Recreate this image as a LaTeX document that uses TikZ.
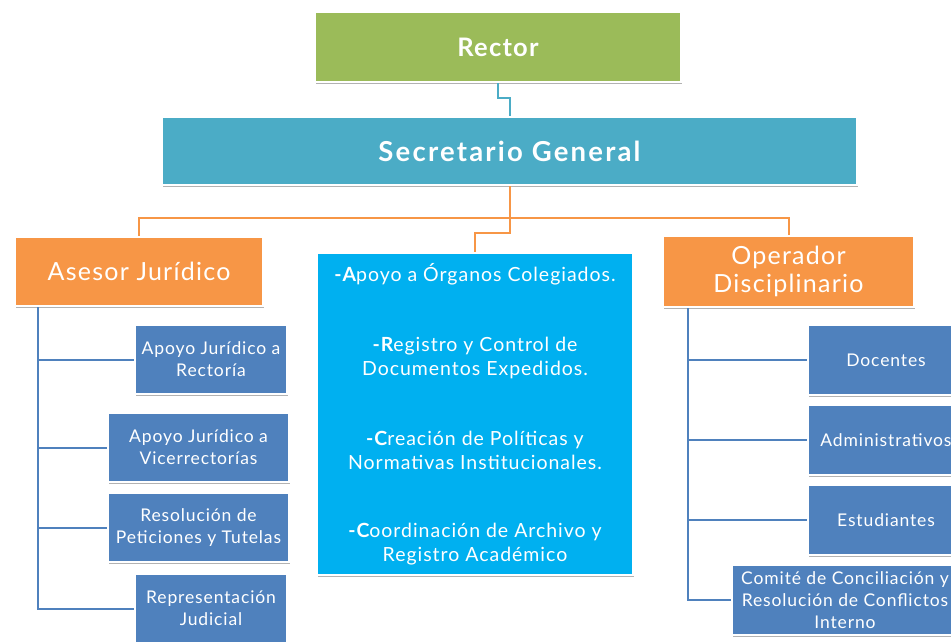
\documentclass[tikz,border=0pt]{standalone}
\usepackage{fontspec}
\setmainfont{Lato}[LetterSpace=5]
\usetikzlibrary{shadows,calc}
\definecolor{cgreen}{HTML}{9BBB59}
\definecolor{cteal}{HTML}{4BACC6}
\definecolor{corange}{HTML}{F79646}
\definecolor{cblue}{HTML}{4F81BD}
\definecolor{csky}{HTML}{00B0F0}
\newcommand\firstl[1]{{\bfseries #1}}
\begin{document}
\begin{tikzpicture}[x=1pt,y=-1pt,
  box/.style={rectangle, draw=white, line width=2.2pt, text=white, align=center, inner sep=2pt,
    drop shadow={shadow xshift=1.2pt, shadow yshift=-1.8pt, opacity=0.3, fill=black}},
  subbox/.style={box, fill=cblue, minimum height=69pt, font=\fontsize{17.5}{22}\selectfont},
  tealline/.style={draw=cteal, line width=2pt},
  orline/.style={draw=corange, line width=2pt},
  blline/.style={draw=cblue, line width=2pt}]
\useasboundingbox (0,0) rectangle (951,643);
\clip (0,0) rectangle (951,643);
\fill[white] (0,0) rectangle (951,643);
% top
\node[box, fill=cgreen, minimum width=366pt, minimum height=70pt, font=\fontsize{25.5}{30}\selectfont\bfseries] (rector) at (498,47) {Rector};
\node[box, fill=cteal, minimum width=695pt, minimum height=68pt, font=\fontsize{27.5}{30}\selectfont\bfseries\addfontfeatures{LetterSpace=8}] (sec) at (509.5,151) {Secretario General};
% second level
\node[box, fill=corange, minimum width=248pt, minimum height=69pt, font=\fontsize{25}{30}\selectfont] (ase) at (139,271.5) {Asesor Jurídico};
\node[box, fill=corange, minimum width=251pt, minimum height=71pt, font=\fontsize{25}{28}\selectfont] (ope) at (788.5,271.5) {Operador\\Disciplinario};
\node[box, fill=csky, minimum width=316pt, minimum height=322pt, font=\fontsize{19.5}{24}\selectfont] (mid) at (475,414)
 {\firstl{-A}poyo a Órganos Colegiados.\\[46pt]
  \firstl{-R}egistro y Control de\\ Documentos Expedidos.\\[46pt]
  \firstl{-C}reación de Políticas y\\ Normativas Institucionales.\\[44pt]
  \firstl{-C}oordinación de Archivo y\\ Registro Académico};
% left children
\node[subbox, minimum width=152pt] (a1) at (211,359.5) {Apoyo Jurídico a\\Rectoría};
\node[subbox, minimum width=181pt] (a2) at (198.5,447.5) {Apoyo Jurídico a\\Vicerrectorías};
\node[subbox, minimum width=181pt] (a3) at (198.5,527.5) {Resolución de\\Peticiones y Tutelas};
\node[subbox, minimum width=152pt] (a4) at (211,608.5) {Representación\\Judicial};
% right children
\node[subbox, minimum width=156pt, minimum height=70pt] (o1) at (886,360) {Docentes};
\node[subbox, minimum width=156pt, minimum height=70pt] (o2) at (886,440) {Administrativos};
\node[subbox, minimum width=156pt, minimum height=70pt] (o3) at (886,520) {Estudiantes};
\node[subbox, minimum width=226pt, minimum height=70pt] (o4) at (845,600) {Comité de Conciliación y\\Resolución de Conflictos\\Interno};
% connectors
\draw[tealline] (rector.south) -- ++(0,15) -| (sec.north);
\draw[orline] (sec.south) -- ++(0,32) coordinate (j);
\draw[orline] (j) -| (ase.north);
\draw[orline] (j) -| (ope.north);
\draw[orline] (j) -- ++(0,15) -| (mid.north);
\coordinate (lt) at (38,0);
\coordinate (rt) at (688,0);
\draw[blline] (ase.south -| lt) -- (lt |- a4.west) -- (a4.west);
\draw[blline] (lt |- a1.west) -- (a1.west);
\draw[blline] (lt |- a2.west) -- (a2.west);
\draw[blline] (lt |- a3.west) -- (a3.west);
\draw[blline] (ope.south -| rt) -- (rt |- o4.west) -- (o4.west);
\draw[blline] (rt |- o1.west) -- (o1.west);
\draw[blline] (rt |- o2.west) -- (o2.west);
\draw[blline] (rt |- o3.west) -- (o3.west);
\end{tikzpicture}
\end{document}
